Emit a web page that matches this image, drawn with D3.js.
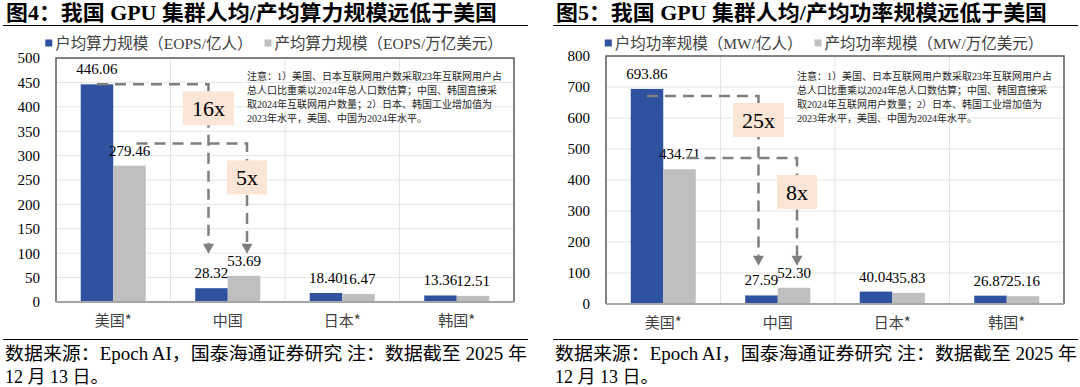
<!DOCTYPE html>
<html>
<head>
<meta charset="utf-8">
<script src="https://cdn.jsdelivr.net/npm/d3@7"></script>
<style>
	body { margin: 0; background: #fff; }
	svg { display: block; }
</style>
</head>
<body>
<svg id="chart" width="1080" height="387"></svg>
<script>
(function() {

	// ---- data ----
	var countries = ['美国*', '中国', '日本*', '韩国*'];

	var computePerUser = [446.06, 28.32, 18.40, 13.36];   // EOPS/亿人
	var computePerGdp  = [279.46, 53.69, 16.47, 12.51];   // EOPS/万亿美元
	var powerPerUser   = [693.86, 27.59, 40.04, 26.87];   // MW/亿人
	var powerPerGdp    = [434.71, 52.30, 35.83, 25.16];   // MW/万亿美元

	var computeTicks = [0, 50, 100, 150, 200, 250, 300, 350, 400, 450, 500];
	var powerTicks   = [0, 100, 200, 300, 400, 500, 600, 700, 800];

	// value level of the dashed guide lines, and the gap labels on them
	var computeGuides = [446.06, 325];
	var powerGuides   = [671, 471];
	var computeGaps = ['16x', '5x'];
	var powerGaps   = ['25x', '8x'];

	var noteLines = [
		'注意：1）美国、日本互联网用户数采取23年互联网用户占',
		'总人口比重乘以2024年总人口数估算；中国、韩国直接采',
		'取2024年互联网用户数量；2）日本、韩国工业增加值为',
		'2023年水平，美国、中国为2024年水平。'
	];
	var sourceLines = [
		'数据来源：Epoch AI，国泰海通证券研究 注：数据截至 2025 年',
		'12 月 13 日。'
	];

	var BLUE = '#2F52A0', GREY = '#BFBFBF';
	var SERIF = '"Liberation Serif", "Noto Sans CJK SC", serif';
	var CJK = '"Noto Sans CJK SC", "Liberation Serif", sans-serif';

	var svg = d3.select('#chart');

	function drawPanel(o) {
		var g = svg.append('g').attr('transform', 'translate(' + o.ox + ',0)');
		var left = 56, right = 514;

		// title + rules
		g.append('text')
			.attr('x', 6).attr('y', 20)
			.attr('font-family', SERIF).attr('font-weight', 'bold')
			.attr('font-size', 21).attr('fill', '#000')
			.attr('textLength', 491).attr('lengthAdjust', 'spacingAndGlyphs')
			.text(o.title);
		g.append('line').attr('x1', 3).attr('x2', 528).attr('y1', 25.5).attr('y2', 25.5)
			.attr('stroke', '#000').attr('stroke-width', 1.2);
		g.append('line').attr('x1', 3).attr('x2', 528).attr('y1', 339.5).attr('y2', 339.5)
			.attr('stroke', '#000').attr('stroke-width', 1.2);

		// legend
		var leg = g.append('g');
		var lx = 0;
		[[o.names[0], BLUE], [o.names[1], GREY]].forEach(function(it, i) {
			if (i > 0) lx += 12;
			leg.append('rect').attr('x', lx).attr('y', 39.5).attr('width', 7).attr('height', 7).attr('fill', it[1]);
			var t = leg.append('text')
				.attr('x', lx + 10).attr('y', 48.5)
				.attr('font-family', SERIF).attr('font-size', 15.5).attr('fill', '#404040')
				.text(it[0]);
			lx += 10 + t.node().getComputedTextLength();
		});
		leg.attr('transform', 'translate(' + (274 - lx / 2) + ',0)');

		var y = d3.scaleLinear().domain([0, o.max]).range([o.bottom, o.top]);
		var x0 = d3.scaleBand().domain(countries).range([left, right]).padding(0);
		var x1 = d3.scaleBand().domain([0, 1]).range([0, x0.bandwidth()]).paddingInner(0).paddingOuter(0.76);

		// grid
		g.append('g').selectAll('line').data(o.ticks.slice(1, -1)).enter().append('line')
			.attr('x1', left).attr('x2', right)
			.attr('y1', function(d) { return y(d); }).attr('y2', function(d) { return y(d); })
			.attr('stroke', '#E4E4E4').attr('stroke-width', 1);
		g.append('g').selectAll('line').data(countries.slice(1)).enter().append('line')
			.attr('x1', function(d) { return x0(d); }).attr('x2', function(d) { return x0(d); })
			.attr('y1', o.top).attr('y2', o.bottom)
			.attr('stroke', '#E4E4E4').attr('stroke-width', 1);

		// y axis labels
		var yAxis = d3.axisLeft(y).tickValues(o.ticks).tickSize(0).tickPadding(16);
		var ya = g.append('g').attr('transform', 'translate(' + left + ',0)').call(yAxis);
		ya.select('.domain').remove();
		ya.selectAll('text').attr('font-family', SERIF).attr('font-size', 15).attr('fill', '#000');

		// x axis labels
		var xAxis = d3.axisBottom(x0).tickSize(0).tickPadding(13);
		var xa = g.append('g').attr('transform', 'translate(0,' + o.bottom + ')').call(xAxis);
		xa.select('.domain').remove();
		xa.selectAll('text').attr('font-family', CJK).attr('font-size', 15).attr('fill', '#404040');

		// bars
		var series = [o.a, o.b];
		var colors = [BLUE, GREY];
		series.forEach(function(vals, s) {
			g.append('g').selectAll('rect').data(vals).enter().append('rect')
				.attr('x', function(d, i) { return x0(countries[i]) + x1(s); })
				.attr('width', x1.bandwidth())
				.attr('y', function(d) { return y(d); })
				.attr('height', function(d) { return o.bottom - y(d); })
				.attr('fill', colors[s]);
		});

		// frame + base axis
		g.append('path')
			.attr('d', 'M' + left + ',' + o.bottom + 'V' + o.top + 'H' + right + 'V' + o.bottom)
			.attr('fill', 'none').attr('stroke', '#595959').attr('stroke-width', 1.5);
		g.append('line').attr('x1', left).attr('x2', right).attr('y1', o.bottom).attr('y2', o.bottom)
			.attr('stroke', '#A6A6A6').attr('stroke-width', 2);

		// value labels
		series.forEach(function(vals, s) {
			g.append('g').selectAll('text').data(vals).enter().append('text')
				.attr('x', function(d, i) { return x0(countries[i]) + x1(s) + x1.bandwidth() / 2; })
				.attr('y', function(d) { return y(d) - 10; })
				.attr('text-anchor', 'middle')
				.attr('font-family', SERIF).attr('font-size', 15).attr('fill', '#000')
				.text(function(d) { return d.toFixed(2); });
		});

		// dashed guides from the US bars down to China
		var tipY = y(d3.max([o.a[1], o.b[1]])) - 22;
		o.guides.forEach(function(level, s) {
			var xs = x0(countries[0]) + x1(s) + x1.bandwidth() / 2 + (s === 0 ? 0 : 7);
			var xe = x0(countries[1]) + x1(s) + x1.bandwidth() / 2 + (s === 0 ? -3 : 3);
			var yl = y(level);
			g.append('path')
				.attr('d', 'M' + xs + ',' + yl + 'H' + xe + 'V' + (tipY - 10))
				.attr('fill', 'none').attr('stroke', '#7F7F7F')
				.attr('stroke-width', 2.5).attr('stroke-dasharray', '11,7');
			g.append('path')
				.attr('d', 'M' + (xe - 5.5) + ',' + (tipY - 10) + 'L' + (xe + 5.5) + ',' + (tipY - 10) + 'L' + xe + ',' + tipY + 'Z')
				.attr('fill', '#7F7F7F');

			var bt = yl + (s === 0 ? 7 : 17);
			var label = g.append('text')
				.attr('x', xe).attr('y', bt + 25)
				.attr('text-anchor', 'middle')
				.attr('font-family', SERIF).attr('font-size', 22).attr('fill', '#000')
				.text(o.gaps[s]);
			var w = label.node().getComputedTextLength() + 18;
			g.insert('rect', function() { return label.node(); })
				.attr('x', xe - w / 2).attr('y', bt).attr('width', w).attr('height', 34)
				.attr('fill', '#FBE5D6');
		});

		// note
		g.append('g').selectAll('text').data(noteLines).enter().append('text')
			.attr('x', 247).attr('y', function(d, i) { return 80 + i * 14; })
			.attr('font-family', SERIF).attr('font-size', 10).attr('fill', '#262626')
			.text(function(d) { return d; });

		// source
		g.append('g').selectAll('text').data(sourceLines).enter().append('text')
			.attr('x', 5).attr('y', function(d, i) { return 360 + i * 23; })
			.attr('font-family', SERIF).attr('font-size', 18).attr('fill', '#000')
			.attr('textLength', function(d, i) { return i === 0 ? 522 : null; })
			.attr('lengthAdjust', 'spacingAndGlyphs')
			.text(function(d) { return d; });
	}

	drawPanel({
		ox: 0,
		title: '图4：我国 GPU 集群人均/产均算力规模远低于美国',
		names: ['户均算力规模（EOPS/亿人）', '产均算力规模（EOPS/万亿美元）'],
		a: computePerUser, b: computePerGdp,
		ticks: computeTicks, max: 500, top: 58, bottom: 302,
		guides: computeGuides, gaps: computeGaps
	});

	drawPanel({
		ox: 550,
		title: '图5：我国 GPU 集群人均/产均功率规模远低于美国',
		names: ['户均功率规模（MW/亿人）', '产均功率规模（MW/万亿美元）'],
		a: powerPerUser, b: powerPerGdp,
		ticks: powerTicks, max: 800, top: 56, bottom: 304,
		guides: powerGuides, gaps: powerGaps
	});

})();
</script>
</body>
</html>
